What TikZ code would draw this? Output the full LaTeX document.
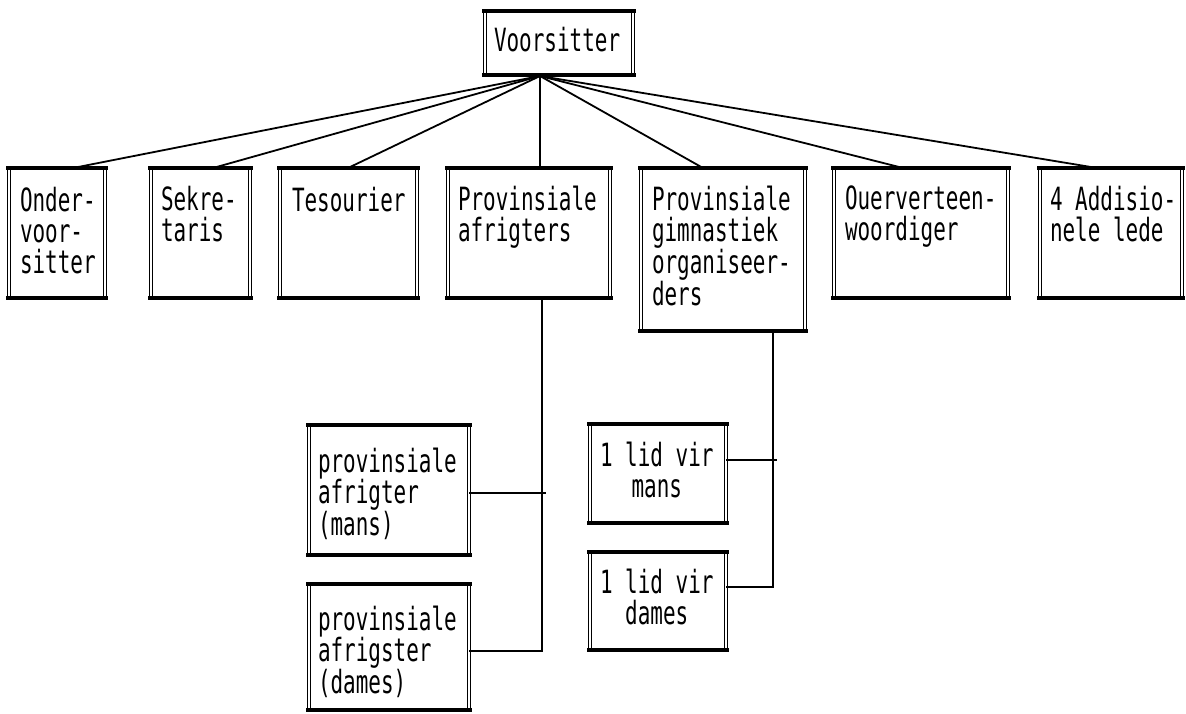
\documentclass[tikz,border=0pt]{standalone}
\usepackage{fontspec}
\newfontfamily\boxfont[FakeStretch=0.655]{DejaVu Sans Mono}
\usetikzlibrary{calc}
\tikzset{
  box/.style={draw, line width=1.4pt, double, double distance=2pt, inner sep=0pt, outer sep=0pt, anchor=north west},
  bar/.style={draw, line width=4.8pt, line cap=butt},
  txt/.style={inner sep=0pt, outer sep=0pt, anchor=north west, align=left, font=\boxfont\fontsize{32}{31}\selectfont},
  conn/.style={line width=1.8pt},
}
\begin{document}
\begin{tikzpicture}[x=1pt,y=-1pt]
\useasboundingbox (0,0) rectangle (1186,714);
% boxes
\node[box, minimum width=148pt, minimum height=64pt] (V) at (485,11) {};
\node[box, minimum width=96pt, minimum height=130pt] (onder) at (9,168) {};
\node[box, minimum width=99pt, minimum height=130pt] (sek) at (151,168) {};
\node[box, minimum width=137pt, minimum height=130pt] (tes) at (280,168) {};
\node[box, minimum width=162pt, minimum height=130pt] (afr) at (448,168) {};
\node[box, minimum width=164pt, minimum height=163pt] (gim) at (641,168) {};
\node[box, minimum width=174pt, minimum height=130pt] (ouer) at (834,168) {};
\node[box, minimum width=142pt, minimum height=130pt] (addis) at (1040,168) {};
\node[box, minimum width=160pt, minimum height=130pt] (pmans) at (309,425) {};
\node[box, minimum width=160pt, minimum height=126pt] (pdames) at (309,584) {};
\node[box, minimum width=136pt, minimum height=99pt] (lmans) at (590,424) {};
\node[box, minimum width=136pt, minimum height=98pt] (ldames) at (590,552) {};
\foreach \n in {V,onder,sek,tes,afr,gim,ouer,addis,pmans,pdames,lmans,ldames}{
  \draw[bar] ([xshift=-3pt]\n.north west) -- ([xshift=3pt]\n.north east);
  \draw[bar] ([xshift=-3pt]\n.south west) -- ([xshift=3pt]\n.south east);
}
% texts
\node[txt] (tV) at (494,27) {Voorsitter};
\node[txt] (tonder) at (20,187) {Onder-\\voor-\\sitter};
\node[txt] (tsek) at (161,186) {Sekre-\\taris};
\node[txt] (ttes) at (292,187) {Tesourier};
\node[txt] (tafr) at (458,186) {Provinsiale\\afrigters};
\node[txt] (tgim) at (652,186) {Provinsiale\\gimnastiek\\organiseer-\\ders};
\node[txt] (touer) at (845,186) {Ouerverteen-\\woordiger};
\node[txt] (taddis) at (1050,186) {4 Addisio-\\nele lede};
\node[txt] (tpmans) at (318,448) {provinsiale\\afrigter\\(mans)};
\node[txt] (tpdames) at (318,606) {provinsiale\\afrigster\\(dames)};
\node[txt, align=center] (tlmans) at (600,442) {1 lid vir\\mans};
\node[txt, align=center] (tldames) at (600,569) {1 lid vir\\dames};
% connectors
\coordinate (vb) at (540,76);
\draw[conn] (vb) -- ($(onder.north west)+(64,0)$);
\draw[conn] (vb) -- ($(sek.north west)+(62,0)$);
\draw[conn] (vb) -- ($(tes.north west)+(68,0)$);
\draw[conn] (vb) -- ($(afr.north west)+(92,0)$);
\draw[conn] (vb) -- ($(gim.north west)+(62,0)$);
\draw[conn] (vb) -- ($(ouer.north west)+(69,0)$);
\draw[conn] (vb) -- ($(addis.north west)+(57,0)$);
% afrigters branch
\coordinate (aj) at (542,651);
\draw[conn] ($(afr.south west)+(94,0)$) -- (aj) -- (pdames.east |- aj);
\draw[conn] (pmans.east |- 0,493) -- (546,493);
% gimnastiek branch
\coordinate (gj) at (773,587);
\draw[conn] ($(gim.south west)+(132,0)$) -- (gj) -- (ldames.east |- gj);
\draw[conn] (lmans.east |- 0,460) -- (777,460);
\end{tikzpicture}
\end{document}
